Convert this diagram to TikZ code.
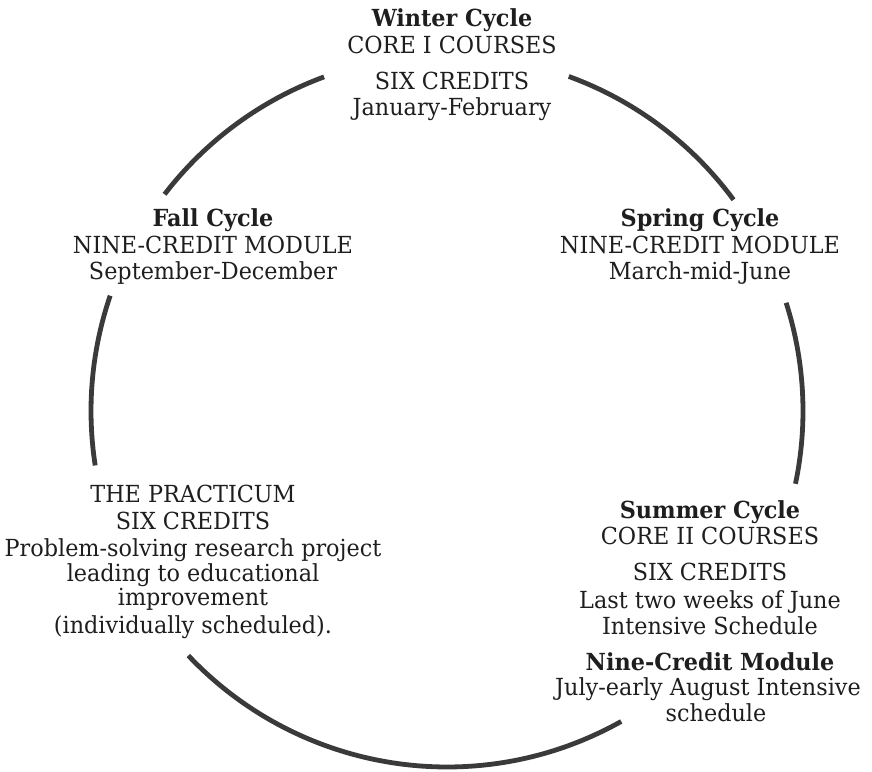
\documentclass[tikz,border=0pt]{standalone}
\usepackage{fontspec}
\setmainfont{DejaVu Serif}[FakeStretch=0.95]
\definecolor{txt}{HTML}{1E1E1E}
\definecolor{arcgray}{HTML}{3A3A3A}
\begin{document}
\begin{tikzpicture}[x=1pt,y=1pt,
  cyc/.style={line width=4.8pt, draw=arcgray},
  lbl/.style={anchor=base, inner sep=0pt, text=txt, font=\fontsize{23.5}{27}\selectfont},
  ttl/.style={lbl, font=\fontsize{23.5}{27}\selectfont\bfseries}]
\useasboundingbox (0,0) rectangle (872,771);
\coordinate (c) at (447,360);
% arcs of the cycle
\draw[cyc] ([shift={(110.2:356pt)}]c) coordinate (a1) arc[start angle=110.2, end angle=142.5, radius=356pt];
\draw[cyc] ([shift={(161.1:356pt)}]c) coordinate (a2) arc[start angle=161.1, end angle=188.8, radius=356pt];
\draw[cyc] ([shift={(223.4:356pt)}]c) coordinate (a3) arc[start angle=223.4, end angle=299.3, radius=356pt];
\draw[cyc] ([shift={(-11.8:356pt)}]c) coordinate (a4) arc[start angle=-11.8, end angle=17.7, radius=356pt];
\draw[cyc] ([shift={(36.4:356pt)}]c) coordinate (a5) arc[start angle=36.4, end angle=70, radius=356pt];
% Winter
\node[ttl] (w1) at (452,744) {Winter Cycle};
\node[lbl] (w2) at (452,717) {CORE I COURSES};
\node[lbl] (w3) at (452,681) {SIX CREDITS};
\node[lbl] (w4) at (452,655) {January-February};
% Fall
\node[ttl] (f1) at (213,544) {Fall Cycle};
\node[lbl] (f2) at (213,517) {NINE-CREDIT MODULE};
\node[lbl] (f3) at (213,491) {September-December};
% Spring
\node[ttl] (s1) at (700,544) {Spring Cycle};
\node[lbl] (s2) at (700,517) {NINE-CREDIT MODULE};
\node[lbl] (s3) at (700,491) {March-mid-June};
% Practicum
\node[lbl] (p1) at (193,268) {THE PRACTICUM};
\node[lbl] (p2) at (193,241) {SIX CREDITS};
\node[lbl] (p3) at (193,214) {Problem-solving research project};
\node[lbl] (p4) at (193,189) {leading to educational};
\node[lbl] (p5) at (193,165) {improvement};
\node[lbl] (p6) at (193,138) {(individually scheduled).};
% Summer
\node[ttl] (u1) at (710,252) {Summer Cycle};
\node[lbl] (u2) at (710,226) {CORE II COURSES};
\node[lbl] (u3) at (710,190) {SIX CREDITS};
\node[lbl] (u4) at (710,163) {Last two weeks of June};
\node[lbl] (u5) at (710,136) {Intensive Schedule};
\node[ttl] (u6) at (710,101) {Nine-Credit Module};
\node[lbl] (u7) at (708,76) {July-early August Intensive};
\node[lbl] (u8) at (716,50) {schedule};
\end{tikzpicture}
\end{document}
